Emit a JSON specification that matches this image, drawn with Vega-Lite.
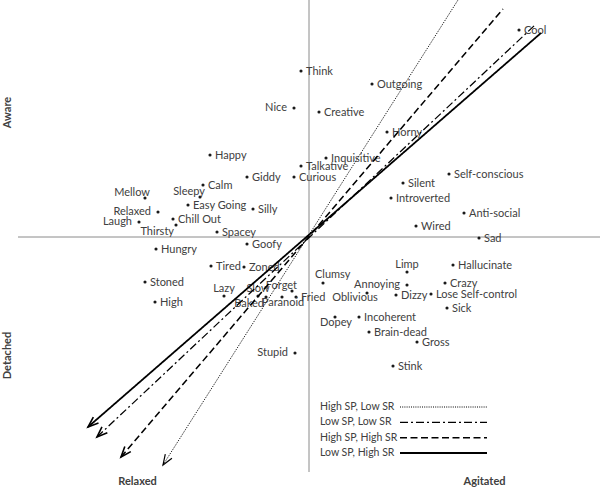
{
  "$schema": "https://vega.github.io/schema/vega-lite/v6.json",
  "width": 584,
  "height": 472,
  "autosize": {"type": "none"},
  "padding": {"left": 16, "top": 0, "right": 0, "bottom": 17},
  "background": "white",
  "config": {"view": {"stroke": null}, "font": "Lato"},
  "datasets": {
    "words": [
      {"word": "Think", "x": -8, "y": 166, "side": "E"},
      {"word": "Outgoing", "x": 63, "y": 153, "side": "E"},
      {"word": "Nice", "x": -15, "y": 129, "side": "W"},
      {"word": "Creative", "x": 10, "y": 125, "side": "E"},
      {"word": "Horny", "x": 78, "y": 105, "side": "E"},
      {"word": "Happy", "x": -99, "y": 82, "side": "E"},
      {"word": "Inquisitive", "x": 17, "y": 79, "side": "E"},
      {"word": "Talkative", "x": -8, "y": 71, "side": "E"},
      {"word": "Curious", "x": -15, "y": 60, "side": "E"},
      {"word": "Giddy", "x": -62, "y": 60, "side": "E"},
      {"word": "Calm", "x": -106, "y": 52, "side": "E"},
      {"word": "Self-conscious", "x": 140, "y": 63, "side": "E"},
      {"word": "Silent", "x": 94, "y": 54, "side": "E"},
      {"word": "Introverted", "x": 82, "y": 39, "side": "E"},
      {"word": "Anti-social", "x": 155, "y": 24, "side": "E"},
      {"word": "Wired", "x": 107, "y": 11, "side": "E"},
      {"word": "Mellow", "x": -164, "y": 39, "side": "NW"},
      {"word": "Sleepy", "x": -109, "y": 40, "side": "NW"},
      {"word": "Easy Going", "x": -121, "y": 32, "side": "E"},
      {"word": "Silly", "x": -56, "y": 28, "side": "E"},
      {"word": "Relaxed", "x": -151, "y": 25, "side": "W"},
      {"word": "Chill Out", "x": -136, "y": 18, "side": "E"},
      {"word": "Laugh", "x": -170, "y": 15, "side": "W"},
      {"word": "Thirsty", "x": -133, "y": 12, "side": "SW"},
      {"word": "Spacey", "x": -92, "y": 5, "side": "E"},
      {"word": "Sad", "x": 170, "y": -1, "side": "E"},
      {"word": "Hungry", "x": -153, "y": -12, "side": "E"},
      {"word": "Goofy", "x": -62, "y": -7, "side": "E"},
      {"word": "Hallucinate", "x": 144, "y": -28, "side": "E"},
      {"word": "Limp", "x": 98, "y": -35, "side": "N"},
      {"word": "Tired", "x": -98, "y": -29, "side": "E"},
      {"word": "Zoned", "x": -65, "y": -30, "side": "E"},
      {"word": "Clumsy", "x": 14, "y": -46, "side": "NE"},
      {"word": "Crazy", "x": 136, "y": -46, "side": "E"},
      {"word": "Stoned", "x": -164, "y": -45, "side": "E"},
      {"word": "Annoying", "x": 98, "y": -48, "side": "W"},
      {"word": "Lazy", "x": -85, "y": -59, "side": "N"},
      {"word": "Slow", "x": -51, "y": -59, "side": "N"},
      {"word": "Forget", "x": -17, "y": -54, "side": "NW"},
      {"word": "Baked", "x": -43, "y": -60, "side": "SW"},
      {"word": "Paranoid", "x": -27, "y": -60, "side": "S"},
      {"word": "Fried", "x": -13, "y": -60, "side": "E"},
      {"word": "Oblivious", "x": 58, "y": -56, "side": "SSW"},
      {"word": "Dizzy", "x": 87, "y": -58, "side": "E"},
      {"word": "Lose Self-control", "x": 122, "y": -57, "side": "E"},
      {"word": "Sick", "x": 138, "y": -71, "side": "E"},
      {"word": "Dopey", "x": 26, "y": -80, "side": "S"},
      {"word": "Incoherent", "x": 50, "y": -80, "side": "E"},
      {"word": "Brain-dead", "x": 60, "y": -95, "side": "E"},
      {"word": "Gross", "x": 108, "y": -105, "side": "E"},
      {"word": "Stink", "x": 84, "y": -129, "side": "E"},
      {"word": "Stupid", "x": -14, "y": -116, "side": "W"},
      {"word": "High", "x": -154, "y": -65, "side": "E"},
      {"word": "Cool", "x": 210, "y": 207, "side": "E"}
    ],
    "vectors": [
      {"series": "Low SP, High SR", "end": "head", "x": 232, "y": 204},
      {"series": "Low SP, High SR", "end": "tip", "x": -221, "y": -190},
      {"series": "Low SP, Low SR", "end": "head", "x": 226, "y": 212},
      {"series": "Low SP, Low SR", "end": "tip", "x": -212, "y": -200},
      {"series": "High SP, High SR", "end": "head", "x": 194, "y": 228},
      {"series": "High SP, High SR", "end": "tip", "x": -188, "y": -220},
      {"series": "High SP, Low SR", "end": "head", "x": 149, "y": 237},
      {"series": "High SP, Low SR", "end": "tip", "x": -146, "y": -228}
    ]
  },
  "resolve": {"scale": {"y": "independent"}, "axis": {"y": "independent"}},
  "layer": [
    {
      "layer": [
        {
          "data": {"values": [{}]},
          "mark": {"type": "rule", "color": "#8a8a8a", "strokeWidth": 1},
          "encoding": {"x": {"datum": 0}}
        },
        {
          "data": {"values": [{}]},
          "mark": {"type": "rule", "color": "#8a8a8a", "strokeWidth": 1},
          "encoding": {"y": {"datum": 0}, "x": {"datum": -291}, "x2": {"datum": 291}}
        },
        {
          "encoding": {
            "x": {
              "field": "x", "type": "quantitative",
              "scale": {"domain": [-293, 291], "nice": false, "zero": false},
              "axis": {
                "values": [-172, 175],
                "labelExpr": "datum.value < 0 ? 'Relaxed' : 'Agitated'",
                "title": null, "domain": false, "ticks": false, "grid": false,
                "labelFont": "Lato", "labelFontWeight": "bold", "labelFontSize": 11,
                "labelColor": "#404040", "labelPadding": 3, "labelAlign": "center",
                "labelBaseline": "top", "labelFlush": false, "labelOverlap": false
              }
            },
            "y": {
              "field": "y", "type": "quantitative",
              "scale": {"domain": [-235, 237], "nice": false, "zero": false},
              "axis": {
                "values": [125, -118],
                "labelExpr": "datum.value > 0 ? 'Aware' : 'Detached'",
                "title": null, "domain": false, "ticks": false, "grid": false,
                "labelFont": "Lato", "labelFontWeight": "bold", "labelFontSize": 11,
                "labelColor": "#404040", "labelPadding": 4, "labelAngle": -90,
                "labelAlign": "center", "labelBaseline": "bottom",
                "labelFlush": false, "labelOverlap": false
              }
            }
          },
          "layer": [
            {
              "data": {"name": "words"},
              "mark": {"type": "point", "filled": true, "size": 10, "color": "#1a1a1a", "opacity": 1}
            },
            {
              "data": {"name": "words"},
              "transform": [{"filter": "datum.side == 'E'"}],
              "mark": {"type": "text", "font": "Lato", "fontSize": 11, "color": "#404040", "align": "left", "baseline": "middle", "dx": 5, "dy": 1},
              "encoding": {"text": {"field": "word"}}
            },
            {
              "data": {"name": "words"},
              "transform": [{"filter": "datum.side == 'W'"}],
              "mark": {"type": "text", "font": "Lato", "fontSize": 11, "color": "#404040", "align": "right", "baseline": "middle", "dx": -7, "dy": 0},
              "encoding": {"text": {"field": "word"}}
            },
            {
              "data": {"name": "words"},
              "transform": [{"filter": "datum.side == 'N'"}],
              "mark": {"type": "text", "font": "Lato", "fontSize": 11, "color": "#404040", "align": "center", "baseline": "middle", "dx": 0, "dy": -7},
              "encoding": {"text": {"field": "word"}}
            },
            {
              "data": {"name": "words"},
              "transform": [{"filter": "datum.side == 'NW'"}],
              "mark": {"type": "text", "font": "Lato", "fontSize": 11, "color": "#404040", "align": "right", "baseline": "middle", "dx": 5, "dy": -5},
              "encoding": {"text": {"field": "word"}}
            },
            {
              "data": {"name": "words"},
              "transform": [{"filter": "datum.side == 'NE'"}],
              "mark": {"type": "text", "font": "Lato", "fontSize": 11, "color": "#404040", "align": "left", "baseline": "middle", "dx": -8, "dy": -8},
              "encoding": {"text": {"field": "word"}}
            },
            {
              "data": {"name": "words"},
              "transform": [{"filter": "datum.side == 'S'"}],
              "mark": {"type": "text", "font": "Lato", "fontSize": 11, "color": "#404040", "align": "center", "baseline": "middle", "dx": 1, "dy": 6},
              "encoding": {"text": {"field": "word"}}
            },
            {
              "data": {"name": "words"},
              "transform": [{"filter": "datum.side == 'SSW'"}],
              "mark": {"type": "text", "font": "Lato", "fontSize": 11, "color": "#404040", "align": "center", "baseline": "middle", "dx": -12, "dy": 5},
              "encoding": {"text": {"field": "word"}}
            },
            {
              "data": {"name": "words"},
              "transform": [{"filter": "datum.side == 'SW'"}],
              "mark": {"type": "text", "font": "Lato", "fontSize": 11, "color": "#404040", "align": "right", "baseline": "middle", "dx": -2, "dy": 7},
              "encoding": {"text": {"field": "word"}}
            },
            {
              "data": {"name": "vectors"},
              "mark": {"type": "line", "stroke": "black", "strokeCap": "butt"},
              "encoding": {
                "strokeDash": {
                  "field": "series", "type": "ordinal",
                  "scale": {"domain": ["High SP, Low SR", "Low SP, Low SR", "High SP, High SR", "Low SP, High SR"],
                            "range": [[1, 1.2], [8, 3, 2, 3], [7, 3.5], [1, 0]]},
                  "legend": null
                },
                "strokeWidth": {
                  "field": "series", "type": "ordinal",
                  "scale": {"domain": ["High SP, Low SR", "Low SP, Low SR", "High SP, High SR", "Low SP, High SR"],
                            "range": [1, 1.8, 2, 1.8]},
                  "legend": null
                }
              }
            },
            {
              "data": {"name": "vectors"},
              "transform": [{"filter": "datum.series == 'Low SP, High SR' && datum.end == 'tip'"}],
              "mark": {"type": "point", "shape": "M -0.75 2 L 0 0 L 0.75 2", "filled": false, "stroke": "black", "strokeWidth": 1.6, "size": 110, "angle": 229, "opacity": 1}
            },
            {
              "data": {"name": "vectors"},
              "transform": [{"filter": "datum.series == 'Low SP, Low SR' && datum.end == 'tip'"}],
              "mark": {"type": "point", "shape": "M -0.75 2 L 0 0 L 0.75 2", "filled": false, "stroke": "black", "strokeWidth": 1.6, "size": 110, "angle": 226.8, "opacity": 1}
            },
            {
              "data": {"name": "vectors"},
              "transform": [{"filter": "datum.series == 'High SP, High SR' && datum.end == 'tip'"}],
              "mark": {"type": "point", "shape": "M -0.75 2 L 0 0 L 0.75 2", "filled": false, "stroke": "black", "strokeWidth": 1.6, "size": 110, "angle": 220.5, "opacity": 1}
            },
            {
              "data": {"name": "vectors"},
              "transform": [{"filter": "datum.series == 'High SP, Low SR' && datum.end == 'tip'"}],
              "mark": {"type": "point", "shape": "M -0.75 2 L 0 0 L 0.75 2", "filled": false, "stroke": "black", "strokeWidth": 1.2, "size": 110, "angle": 212.4, "opacity": 1}
            }
          ]
        }
      ]
    },
    {
      "data": {"name": "vectors"},
      "transform": [{"filter": "datum.end == 'tip'"}],
      "encoding": {
        "y": {
          "field": "series", "type": "nominal",
          "scale": {"type": "point", "domain": ["High SP, Low SR", "Low SP, Low SR", "High SP, High SR", "Low SP, High SR"], "range": [407, 453], "padding": 0},
          "axis": null
        }
      },
      "layer": [
        {
          "mark": {"type": "rule", "stroke": "black", "strokeCap": "butt"},
          "encoding": {
            "x": {"datum": 91},
            "x2": {"datum": 178},
            "strokeDash": {"field": "series", "type": "ordinal", "legend": null},
            "strokeWidth": {"field": "series", "type": "ordinal", "legend": null}
          }
        },
        {
          "mark": {"type": "text", "font": "Lato", "fontSize": 10.5, "color": "#404040", "align": "left", "baseline": "middle"},
          "encoding": {
            "x": {"datum": 11},
            "text": {"field": "series"}
          }
        }
      ]
    }
  ]
}
